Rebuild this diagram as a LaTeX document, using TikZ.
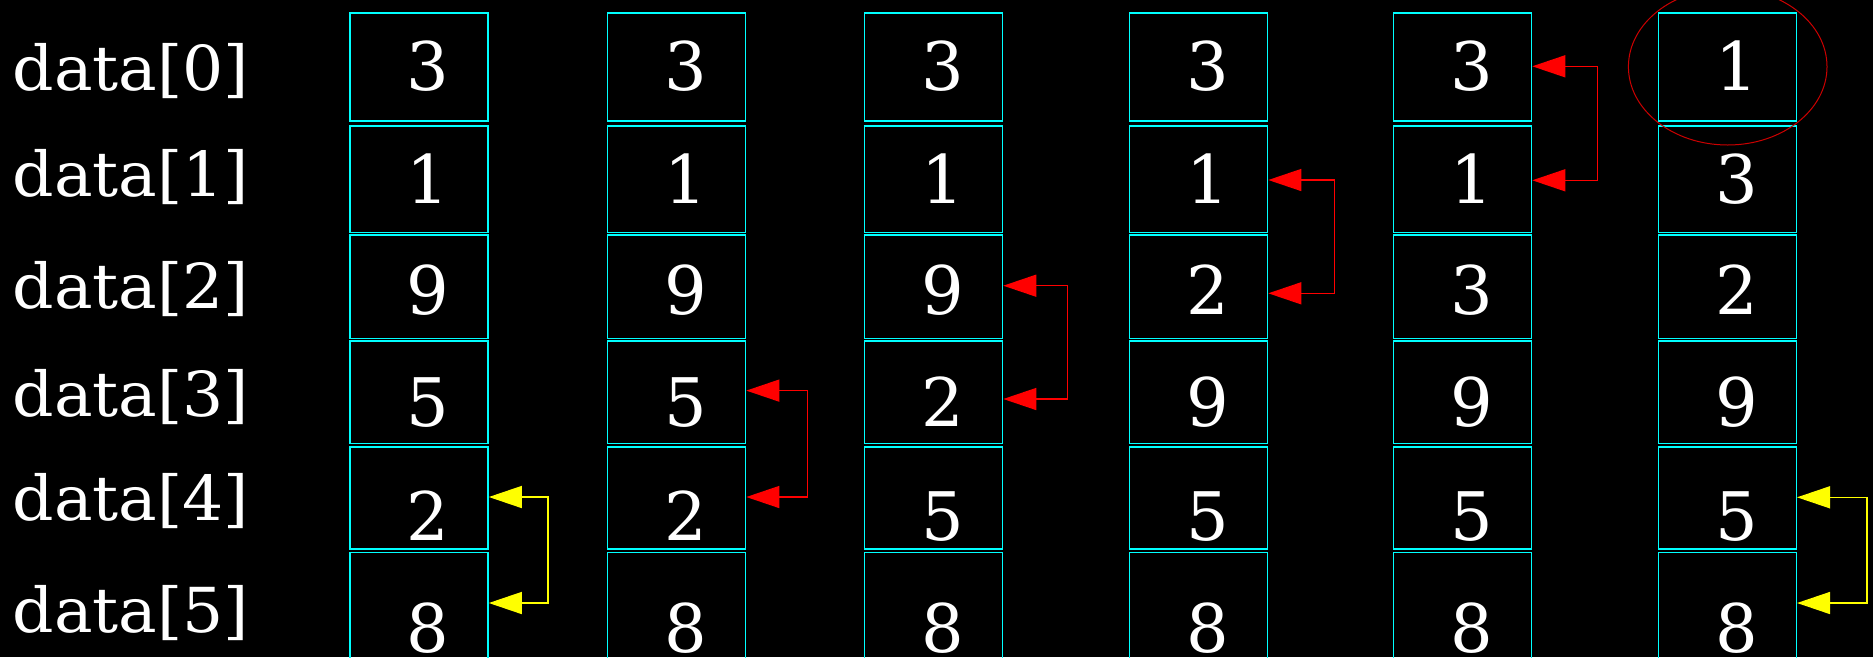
\documentclass[tikz,border=0pt]{standalone}
\usepackage{fontspec}
\setmainfont{DejaVu Serif}
\usetikzlibrary{arrows.meta}
\definecolor{ellred}{RGB}{204,0,0}
\definecolor{cellcyan}{RGB}{0,255,255}
\definecolor{swapred}{RGB}{255,0,0}
\definecolor{swapyellow}{RGB}{255,255,0}
\begin{document}
\begin{tikzpicture}[x=1pt,y=-1pt,
  cellbox/.style={draw=cellcyan, line width=1.5pt, minimum width=138pt, inner sep=0pt, anchor=north west, rectangle},
  digit/.style={text=white, inner sep=0pt, anchor=base, font=\fontsize{67}{67}\selectfont},
  rowlabel/.style={text=white, inner sep=0pt, anchor=base west, font=\fontsize{62}{62}\selectfont},
  swaparrow/.style={line width=1.5pt, {Triangle[length=33pt,width=22pt]}-{Triangle[length=33pt,width=22pt]}},
  redswap/.style={swaparrow, draw=swapred},
  yellowswap/.style={swaparrow, draw=swapyellow}
]
\fill[black] (0,0) rectangle (1873,657);
\useasboundingbox (0,0) rectangle (1873,657);

% row labels
\foreach \r/\base in {0/90,1/196,2/308.3,3/416.7,4/520,5/632.7}
  \node[rowlabel] (lab\r) at (12.5,\base) {\scalebox{1.045}[1]{data[\r]}};

% columns of cells
\foreach \c/\xl/\vals in {1/349.3/{3,1,9,5,2,8},2/606.8/{3,1,9,5,2,8},3/863.8/{3,1,9,2,5,8},4/1128.8/{3,1,2,9,5,8},5/1392.8/{3,1,3,9,5,8},6/1657.5/{1,3,2,9,5,8}}{
  \foreach \r/\top/\h/\base in {0/12/108/90,1/125/106.7/203,2/234.3/103.4/314,3/340.3/102.4/426,4/446/102.3/540,5/551.7/110/652}{
    \pgfmathtruncatemacro{\val}{{\vals}[\r]}
    \node[cellbox, minimum height=\h pt] (b\c\r) at (\xl,\top) {};
    \node[digit] (v\c\r) at (\xl+79,\base) {\val};
  }
}

% swap connectors
\coordinate (s1a) at (b14.east |- 0,497);   \coordinate (s1b) at (b15.east |- 0,603);
\coordinate (s2a) at (b23.east |- 0,390.6); \coordinate (s2b) at (b24.east |- 0,497);
\coordinate (s3a) at (b32.east |- 0,285.7); \coordinate (s3b) at (b33.east |- 0,399);
\coordinate (s4a) at (b41.east |- 0,180);   \coordinate (s4b) at (b42.east |- 0,293.3);
\coordinate (s5a) at (b50.east |- 0,66.3);  \coordinate (s5b) at (b51.east |- 0,180.3);
\coordinate (s6a) at (b64.east |- 0,497.3); \coordinate (s6b) at (b65.east |- 0,603);

\draw[yellowswap] (s1a) -- ++(59,0) |- (s1b);
\draw[redswap] (s2a) -- ++(61,0) |- (s2b);
\draw[redswap] (s3a) -- ++(64,0) |- (s3b);
\draw[redswap] (s4a) -- ++(66,0) |- (s4b);
\draw[redswap] (s5a) -- ++(65,0) |- (s5b);
\draw[yellowswap] (s6a) -- ++(70,0) |- (s6b);

% highlight
\draw[ellred, line width=1pt] (1727.7,66.7) ellipse [x radius=99.3, y radius=78.3];
\end{tikzpicture}
\end{document}
